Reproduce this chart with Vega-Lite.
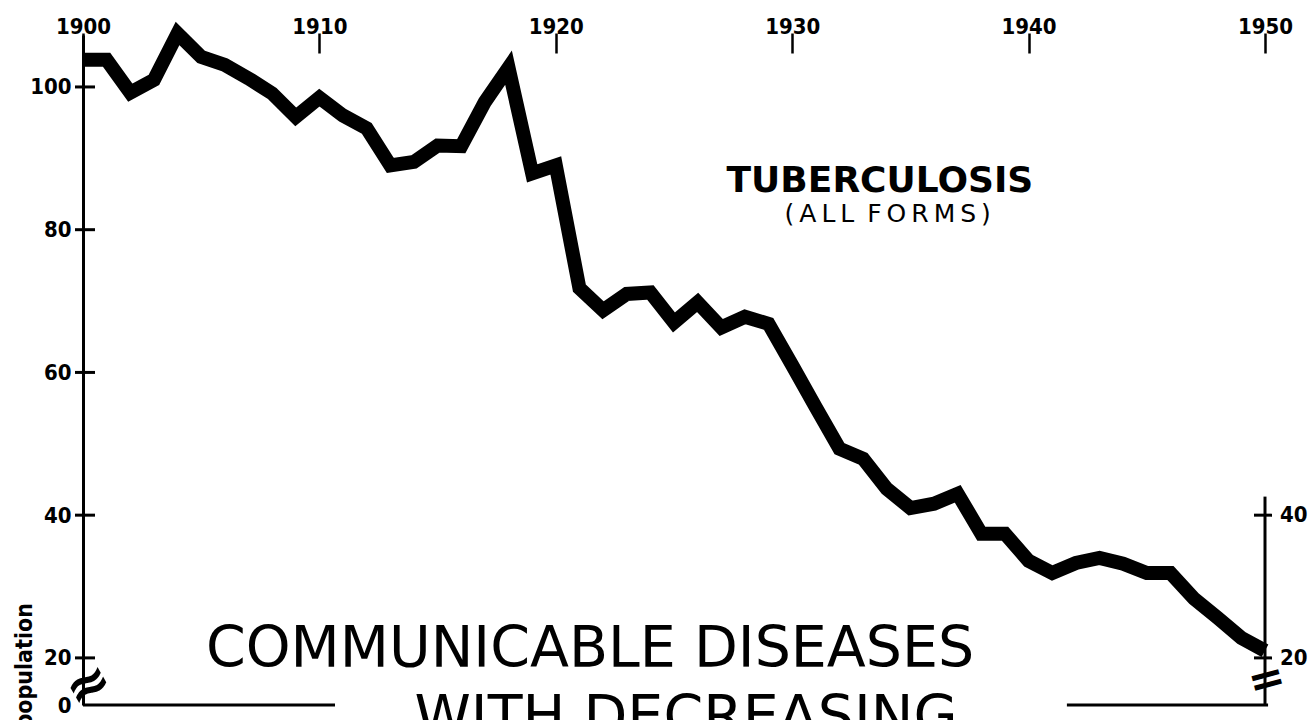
{
  "$schema": "https://vega.github.io/schema/vega-lite/v6.json",
  "width": 1182,
  "height": 670,
  "autosize": {"type": "none"},
  "padding": {"left": 83, "top": 35, "right": 50, "bottom": 15},
  "background": "white",
  "config": {"view": {"stroke": null}, "axis": {"grid": false}},
  "layer": [
    {
      "data": {"values": [
        {"year": 1900, "rate": 103.8}, {"year": 1901, "rate": 103.8}, {"year": 1902, "rate": 99.2},
        {"year": 1903, "rate": 101.0}, {"year": 1904, "rate": 107.5}, {"year": 1905, "rate": 104.2},
        {"year": 1906, "rate": 103.1}, {"year": 1907, "rate": 101.2}, {"year": 1908, "rate": 99.1},
        {"year": 1909, "rate": 95.8}, {"year": 1910, "rate": 98.5}, {"year": 1911, "rate": 96.0},
        {"year": 1912, "rate": 94.2}, {"year": 1913, "rate": 89.0}, {"year": 1914, "rate": 89.5},
        {"year": 1915, "rate": 91.8}, {"year": 1916, "rate": 91.7}, {"year": 1917, "rate": 97.9},
        {"year": 1918, "rate": 102.7}, {"year": 1919, "rate": 87.9}, {"year": 1920, "rate": 89.0},
        {"year": 1921, "rate": 71.8}, {"year": 1922, "rate": 68.7}, {"year": 1923, "rate": 71.0},
        {"year": 1924, "rate": 71.2}, {"year": 1925, "rate": 67.0}, {"year": 1926, "rate": 69.8},
        {"year": 1927, "rate": 66.3}, {"year": 1928, "rate": 67.8}, {"year": 1929, "rate": 66.8},
        {"year": 1930, "rate": 61.0}, {"year": 1931, "rate": 55.1}, {"year": 1932, "rate": 49.3},
        {"year": 1933, "rate": 47.9}, {"year": 1934, "rate": 43.7}, {"year": 1935, "rate": 41.0},
        {"year": 1936, "rate": 41.6}, {"year": 1937, "rate": 43.0}, {"year": 1938, "rate": 37.4},
        {"year": 1939, "rate": 37.4}, {"year": 1940, "rate": 33.6}, {"year": 1941, "rate": 31.9},
        {"year": 1942, "rate": 33.3}, {"year": 1943, "rate": 34.0}, {"year": 1944, "rate": 33.2},
        {"year": 1945, "rate": 31.9}, {"year": 1946, "rate": 31.9}, {"year": 1947, "rate": 28.3},
        {"year": 1948, "rate": 25.6}, {"year": 1949, "rate": 22.8}, {"year": 1950, "rate": 21.0}
      ]},
      "mark": {"type": "line", "color": "black", "strokeWidth": 14, "strokeJoin": "miter", "strokeCap": "butt"},
      "encoding": {
        "x": {
          "field": "year", "type": "quantitative",
          "scale": {"domain": [1900, 1950], "nice": false, "zero": false},
          "axis": {
            "orient": "top", "values": [1900, 1910, 1920, 1930, 1940, 1950], "format": "d",
            "title": null, "domain": false, "tickSize": 20, "tickWidth": 2.5, "tickColor": "black",
            "offset": -18, "labelPadding": 0, "labelBaseline": "alphabetic", "labelFlush": false,
            "labelOverlap": false, "labelFont": "DejaVu Sans Condensed, DejaVu Sans", "labelFontWeight": "bold",
            "labelFontSize": 22, "labelColor": "black", "labelAngle": 0, "grid": false
          }
        },
        "y": {
          "field": "rate", "type": "quantitative",
          "scale": {"domain": [13.4, 107.28], "nice": false, "zero": false},
          "axis": {
            "orient": "left", "values": [13.4, 20, 40, 60, 80, 100],
            "labelExpr": "datum.value < 15 ? '0' : datum.label",
            "title": null, "domain": true, "domainColor": "black", "domainWidth": 3,
            "ticks": false, "labelPadding": 12, "labelOverlap": false, "labelFlush": false,
            "labelFont": "DejaVu Sans Condensed, DejaVu Sans", "labelFontWeight": "bold", "labelFontSize": 22,
            "labelColor": "black", "grid": false
          }
        }
      }
    },
    {
      "data": {"values": [{"v": 20}, {"v": 40}, {"v": 60}, {"v": 80}, {"v": 100}]},
      "mark": {"type": "tick", "orient": "horizontal", "color": "black", "opacity": 1, "size": 20, "thickness": 3, "xOffset": 2},
      "encoding": {
        "x": {"datum": 1900, "type": "quantitative", "title": null},
        "y": {"field": "v", "type": "quantitative", "title": null}
      }
    },
    {
      "data": {"values": [{"lo": 13.4, "hi": 42.6}]},
      "mark": {"type": "rule", "color": "black", "strokeWidth": 3},
      "encoding": {
        "x": {"datum": 1950, "type": "quantitative", "title": null},
        "y": {"field": "lo", "type": "quantitative", "title": null},
        "y2": {"field": "hi"}
      }
    },
    {
      "data": {"values": [{"v": 20}, {"v": 40}]},
      "mark": {"type": "tick", "orient": "horizontal", "color": "black", "opacity": 1, "size": 18, "thickness": 3, "xOffset": -2},
      "encoding": {
        "x": {"datum": 1950, "type": "quantitative", "title": null},
        "y": {"field": "v", "type": "quantitative", "title": null}
      }
    },
    {
      "data": {"values": [{"v": 20, "t": "20"}, {"v": 40, "t": "40"}]},
      "mark": {"type": "text", "align": "left", "baseline": "middle", "dx": 15, "font": "DejaVu Sans Condensed, DejaVu Sans", "fontWeight": "bold", "fontSize": 22, "color": "black"},
      "encoding": {
        "x": {"datum": 1950, "type": "quantitative", "title": null},
        "y": {"field": "v", "type": "quantitative", "title": null},
        "text": {"field": "t"}
      }
    },
    {
      "data": {"values": [{"a": 1900, "b": 1910.66}, {"a": 1941.62, "b": 1950.13}]},
      "mark": {"type": "rule", "color": "black", "strokeWidth": 3},
      "encoding": {
        "x": {"field": "a", "type": "quantitative", "title": null},
        "x2": {"field": "b"},
        "y": {"datum": 13.4, "type": "quantitative", "title": null}
      }
    },
    {
      "data": {"values": [{"yr": 1900.25, "v": 16.1, "s": "≈"}]},
      "mark": {"type": "text", "align": "center", "baseline": "middle", "angle": 330, "font": "DejaVu Sans", "fontWeight": "bold", "fontSize": 54, "color": "black"},
      "encoding": {
        "x": {"field": "yr", "type": "quantitative", "title": null},
        "y": {"field": "v", "type": "quantitative", "title": null},
        "text": {"field": "s"}
      }
    },
    {
      "data": {"values": [{"yr": 1950.08, "v": 16.8, "s": "="}]},
      "mark": {"type": "text", "align": "center", "baseline": "middle", "angle": 345, "font": "DejaVu Sans", "fontWeight": "bold", "fontSize": 44, "color": "black"},
      "encoding": {
        "x": {"field": "yr", "type": "quantitative", "title": null},
        "y": {"field": "v", "type": "quantitative", "title": null},
        "text": {"field": "s"}
      }
    },
    {
      "data": {"values": [{"yr": 1933.71, "v": 85.25, "s": "TUBERCULOSIS"}]},
      "mark": {"type": "text", "align": "center", "baseline": "alphabetic", "font": "DejaVu Sans", "fontWeight": "bold", "fontSize": 36, "color": "black"},
      "encoding": {
        "x": {"field": "yr", "type": "quantitative", "title": null},
        "y": {"field": "v", "type": "quantitative", "title": null},
        "text": {"field": "s"}
      }
    },
    {
      "data": {"values": [{"yr": 1934.04, "v": 81.05, "s": "(\u2009A\u2009L\u2009L\u2009  F\u2009O\u2009R\u2009M\u2009S\u2009)"}]},
      "mark": {"type": "text", "align": "center", "baseline": "alphabetic", "font": "DejaVu Sans", "fontSize": 25, "color": "black"},
      "encoding": {
        "x": {"field": "yr", "type": "quantitative", "title": null},
        "y": {"field": "v", "type": "quantitative", "title": null},
        "text": {"field": "s"}
      }
    },
    {
      "data": {"values": [
        {"yr": 1921.45, "v": 18.72, "s": "COMMUNICABLE DISEASES"},
        {"yr": 1925.51, "v": 9.06, "s": "WITH  DECREASING"}
      ]},
      "mark": {"type": "text", "align": "center", "baseline": "alphabetic", "font": "DejaVu Sans", "fontSize": 57, "color": "black"},
      "encoding": {
        "x": {"field": "yr", "type": "quantitative", "title": null},
        "y": {"field": "v", "type": "quantitative", "title": null},
        "text": {"field": "s"}
      }
    },
    {
      "data": {"values": [{"yr": 1897.84, "v": 27.69, "s": "Deaths per 100,000 population"}]},
      "mark": {"type": "text", "align": "right", "baseline": "alphabetic", "angle": 270, "font": "DejaVu Sans Condensed, DejaVu Sans", "fontWeight": "bold", "fontSize": 23, "color": "black"},
      "encoding": {
        "x": {"field": "yr", "type": "quantitative", "title": null},
        "y": {"field": "v", "type": "quantitative", "title": null},
        "text": {"field": "s"}
      }
    }
  ]
}
